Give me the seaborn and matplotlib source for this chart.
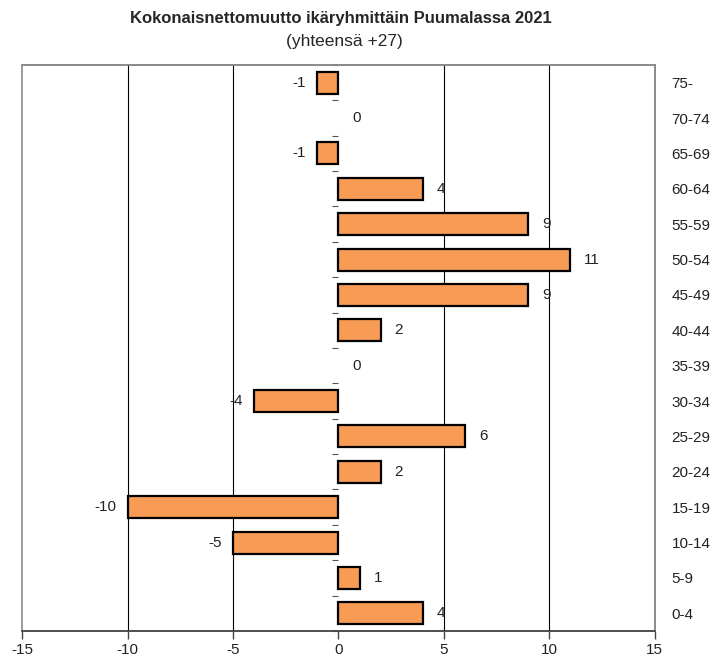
import numpy as np
import pandas as pd
import seaborn as sns
import matplotlib.pyplot as plt

# Age groups from top to bottom, and net migration per group
age_groups = ["75-", "70-74", "65-69", "60-64", "55-59", "50-54", "45-49", "40-44",
              "35-39", "30-34", "25-29", "20-24", "15-19", "10-14", "5-9", "0-4"]
net_change = [-1, 0, -1, 4, 9, 11, 9, 2, 0, -4, 6, 2, -10, -5, 1, 4]
x_ticks = [-15, -10, -5, 0, 5, 10, 15]

df = pd.DataFrame({"ikaryhma": age_groups, "muutos": net_change})

sns.set_style("white")
plt.rcParams["font.family"] = ["Liberation Sans", "DejaVu Sans"]
plt.rcParams["axes.unicode_minus"] = False

fig = plt.figure(figsize=(7.14, 6.61), dpi=100)
ax = fig.add_axes([0.031, 0.0454, 0.886, 0.8563])

sns.barplot(data=df, x="muutos", y="ikaryhma", order=age_groups, orient="h",
            color="#F79B55", saturation=1, edgecolor="black", linewidth=1.6,
            width=0.62, ax=ax, zorder=3)

# zero-length bars show nothing
for p in ax.patches:
    if p.get_width() == 0:
        p.set_linewidth(0)

ax.set_xlim(x_ticks[0], x_ticks[-1])
ax.set_ylim(len(age_groups) - 0.5, -0.5)
ax.set_xticks(x_ticks)
ax.set_xlabel("")
ax.set_ylabel("")

# vertical grid lines (not at zero or at the frame)
for t in x_ticks[1:-1]:
    if t != 0:
        ax.axvline(t, color="black", linewidth=0.8, zorder=1)

# value labels
for i, v in enumerate(net_change):
    if v < 0:
        ax.annotate(str(v), (v, i), xytext=(-8, 0), textcoords="offset points",
                    ha="right", va="center", fontsize=11, color="#222222")
    else:
        ax.annotate(str(v), (v, i), xytext=(10, 0), textcoords="offset points",
                    ha="left", va="center", fontsize=11, color="#222222")

# category labels on the right, small boundary ticks at zero
ax.set_yticks(np.arange(len(age_groups)))
ax.set_yticklabels(age_groups)
ax.set_yticks(np.arange(len(age_groups) + 1) - 0.5, minor=True)
ax.spines["left"].set_position(("data", 0))
ax.spines["left"].set_linewidth(0)
ax.tick_params(axis="y", which="major", left=False, right=True, length=0,
               labelleft=False, labelright=True, pad=12, labelsize=11,
               labelcolor="#222222")
ax.tick_params(axis="y", which="minor", left=True, right=False, length=4,
               width=0.8, color="#555555")
ax.tick_params(axis="x", which="major", bottom=True, length=6, width=1,
               color="#444444", labelsize=11, labelcolor="#222222", pad=3)

ax.patch.set_edgecolor("#8a8a8a")
ax.patch.set_linewidth(1.2)
for s in ["top", "right"]:
    ax.spines[s].set_color("#8a8a8a")
    ax.spines[s].set_linewidth(1.2)
ax.spines["bottom"].set_color("#444444")
ax.spines["bottom"].set_linewidth(1.2)

fig.text(0.477, 0.972, "Kokonaisnettomuutto ikäryhmittäin Puumalassa 2021",
         ha="center", va="center", fontsize=12, fontweight="bold")
fig.text(0.482, 0.937, "(yhteensä +27)", ha="center", va="center", fontsize=12.5)

fig.savefig("out.png", dpi=100)
